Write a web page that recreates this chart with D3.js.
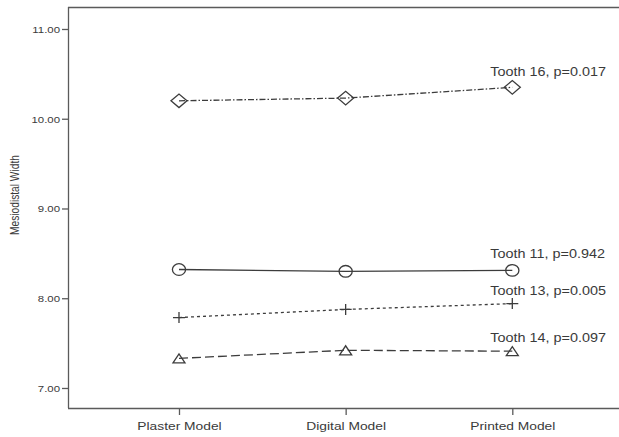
<!DOCTYPE html>
<html>
<head>
<meta charset="utf-8">
<script src="https://cdn.jsdelivr.net/npm/d3@7"></script>
<style>
  html, body { margin: 0; padding: 0; background: #fff; }
  svg { display: block; }
  text { font-family: Arial, "Liberation Sans", sans-serif; fill: #3a3a3a; }
</style>
</head>
<body>
<svg id="chart" width="619" height="437"></svg>
<script>
// ---- Data ----
const categories = ["Plaster Model", "Digital Model", "Printed Model"];
const yTicks = [7, 8, 9, 10, 11];
const seriesNames = ["Tooth 16, p=0.017", "Tooth 11, p=0.942", "Tooth 13, p=0.005", "Tooth 14, p=0.097"];
const tooth16 = [10.20, 10.23, 10.35];
const tooth11 = [8.32, 8.30, 8.31];
const tooth13 = [7.785, 7.875, 7.94];
const tooth14 = [7.33, 7.42, 7.41];
const yTitle = "Mesiodistal Width";

// ---- Styles (not data) ----
const styles = [
  { values: tooth16, dash: "6,2,1.5,2", marker: "diamond", dy: -11 },
  { values: tooth11, dash: null, marker: "circle", dy: -12 },
  { values: tooth13, dash: "3,3", marker: "plus", dy: -9 },
  { values: tooth14, dash: "9,4", marker: "triangle", dy: -9 }
];

const sx = 1.2; // horizontal text stretch of the reference
const svg = d3.select("#chart");
const mLeft = 68, mTop = 7, mBottom = 408, mRight = 619;

const x = d3.scalePoint().domain(categories).range([mLeft, 623.3]).padding(0.666);
const y = d3.scaleLinear().domain([6.777, 11.245]).range([mBottom, mTop]);

const axisColor = "#5a5a5a";
const lineColor = "#3c3c3c";

// frame line (top)
svg.append("line").attr("x1", mLeft).attr("x2", mRight).attr("y1", mTop + 0.5).attr("y2", mTop + 0.5)
  .attr("stroke", axisColor).attr("stroke-width", 1.3);

// Y axis
const yAxis = d3.axisLeft(y).tickValues(yTicks).tickSize(6).tickFormat(d3.format(".2f"));
const gy = svg.append("g").attr("transform", `translate(${mLeft},0)`).call(yAxis);
gy.select(".domain").attr("stroke", axisColor).attr("stroke-width", 1.3)
  .attr("d", `M0.5,${mTop}V${mBottom}`);
gy.selectAll(".tick line").attr("stroke", axisColor).attr("stroke-width", 1.3);
gy.selectAll(".tick text")
  .attr("x", null).attr("dy", null)
  .attr("font-size", 9.5)
  .attr("text-anchor", "end")
  .attr("fill", "#3a3a3a")
  .attr("transform", `translate(-8,3.3) scale(${sx},1)`);

// X axis
const xAxis = d3.axisBottom(x).tickSize(7);
const gx = svg.append("g").attr("transform", `translate(0,${mBottom})`).call(xAxis);
gx.select(".domain").attr("stroke", axisColor).attr("stroke-width", 1.3)
  .attr("d", `M${mLeft},0.5H${mRight}`);
gx.selectAll(".tick line").attr("stroke", axisColor).attr("stroke-width", 1.3);
gx.selectAll(".tick text")
  .attr("y", null).attr("dy", null)
  .attr("font-size", 11.5)
  .attr("text-anchor", "middle")
  .attr("fill", "#3a3a3a")
  .attr("transform", `translate(0,22) scale(${sx},1)`);

// Y title
svg.append("text")
  .attr("transform", `translate(19,195) scale(${sx},1) rotate(-90)`)
  .attr("text-anchor", "middle")
  .attr("font-size", 10.2)
  .text(yTitle);

// Lines
const line = d3.line().x((d, i) => x(categories[i])).y(d => y(d));

function drawMarker(g, type, cx, cy) {
  const m = g.append("g").attr("transform", `translate(${cx},${cy})`)
    .attr("fill", "none").attr("stroke", lineColor).attr("stroke-width", 1.3);
  if (type === "diamond") {
    m.append("path").attr("d", "M-8,0L0,-6.8L8,0L0,6.8Z");
  } else if (type === "circle") {
    m.append("ellipse").attr("rx", 6.6).attr("ry", 5.8);
  } else if (type === "plus") {
    m.append("path").attr("d", "M-6,0H6M0,-5.5V5.5");
  } else if (type === "triangle") {
    m.append("path").attr("d", "M-6,4.5L0,-4.5L6,4.5Z");
  }
}

styles.forEach((s, k) => {
  const g = svg.append("g");
  g.append("path")
    .attr("d", line(s.values))
    .attr("fill", "none")
    .attr("stroke", lineColor)
    .attr("stroke-width", 1.3)
    .attr("stroke-dasharray", s.dash);
  s.values.forEach((v, i) => drawMarker(g, s.marker, x(categories[i]), y(v)));
  const lx = x(categories[categories.length - 1]);
  const ly = y(s.values[s.values.length - 1]);
  g.append("text")
    .attr("transform", `translate(${lx - 22},${ly + s.dy}) scale(${sx},1)`)
    .attr("font-size", 12)
    .text(seriesNames[k]);
});
</script>
</body>
</html>
